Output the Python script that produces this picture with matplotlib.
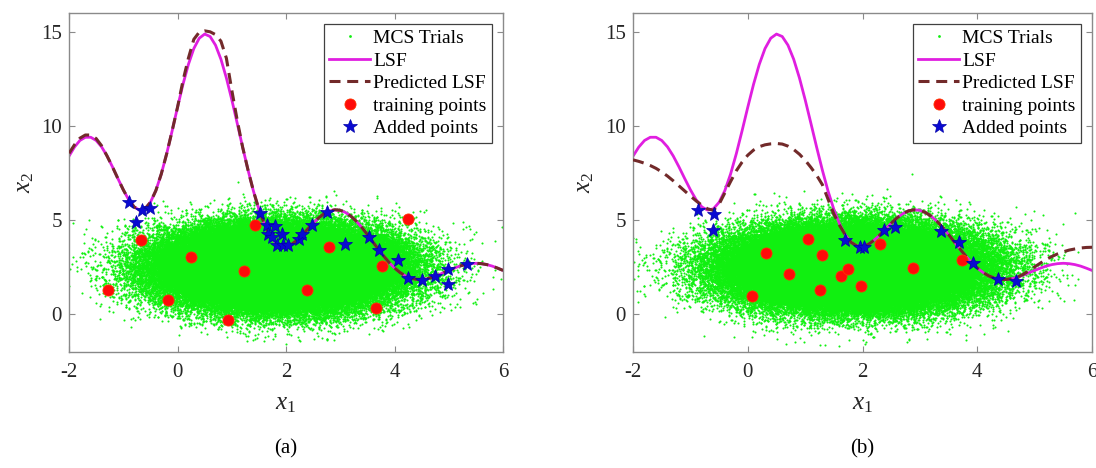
import numpy as np
import matplotlib.pyplot as plt

plt.rcParams['font.family'] = ['Liberation Serif', 'DejaVu Serif']
plt.rcParams['mathtext.fontset'] = 'custom'
plt.rcParams['mathtext.rm'] = 'Liberation Serif'
plt.rcParams['mathtext.it'] = 'Liberation Serif:italic'
plt.rcParams['axes.unicode_minus'] = False

# limit state curve sampled every 0.1 along x1
x1_grid = np.linspace(-2, 6, 81)
lsf = [8.40, 8.88, 9.23, 9.40, 9.40, 9.23, 8.89, 8.41, 7.83, 7.21,
       6.61, 6.08, 5.70, 5.53, 5.60, 5.95, 6.57, 7.45, 8.53, 9.74,
       11.00, 12.21, 13.27, 14.11, 14.66, 14.88, 14.75, 14.29, 13.54, 12.55,
       11.39, 10.14, 8.87, 7.65, 6.53, 5.57, 4.79, 4.21, 3.82, 3.63,
       3.60, 3.71, 3.93, 4.21, 4.53, 4.84, 5.12, 5.34, 5.49, 5.55,
       5.52, 5.40, 5.20, 4.93, 4.60, 4.23, 3.84, 3.46, 3.09, 2.75,
       2.46, 2.22, 2.04, 1.92, 1.86, 1.85, 1.89, 1.97, 2.08, 2.21,
       2.33, 2.45, 2.56, 2.64, 2.69, 2.71, 2.69, 2.64, 2.56, 2.45,
       2.33]

pred_a = [8.55, 9.00, 9.35, 9.52, 9.52, 9.33, 8.95, 8.41, 7.83, 7.21,
          6.61, 6.08, 5.70, 5.53, 5.60, 5.95, 6.57, 7.45, 8.53, 9.74,
          11.00, 12.40, 13.60, 14.60, 14.98, 15.05, 15.00, 14.85, 14.50, 13.60,
          11.90, 10.30, 8.87, 7.65, 6.53, 5.57, 4.79, 4.21, 3.82, 3.63,
          3.60, 3.71, 3.93, 4.21, 4.53, 4.84, 5.12, 5.34, 5.49, 5.55,
          5.52, 5.40, 5.20, 4.93, 4.60, 4.23, 3.84, 3.46, 3.09, 2.75,
          2.46, 2.22, 2.04, 1.92, 1.86, 1.85, 1.89, 1.97, 2.08, 2.21,
          2.33, 2.45, 2.56, 2.64, 2.69, 2.71, 2.69, 2.64, 2.56, 2.45,
          2.33]

pred_b = [8.20, 8.12, 8.02, 7.90, 7.75, 7.56, 7.34, 7.09, 6.82, 6.55,
          6.28, 6.02, 5.79, 5.60, 5.52, 5.85, 6.45, 7.05, 7.62, 8.08,
          8.45, 8.72, 8.90, 9.00, 9.05, 9.07, 9.04, 8.93, 8.75, 8.50,
          8.18, 7.80, 7.38, 6.88, 6.10, 5.32, 4.72, 4.21, 3.82, 3.63,
          3.60, 3.71, 3.93, 4.21, 4.53, 4.84, 5.12, 5.34, 5.49, 5.55,
          5.52, 5.40, 5.20, 4.93, 4.60, 4.23, 3.84, 3.46, 3.09, 2.75,
          2.46, 2.22, 2.04, 1.92, 1.86, 1.85, 1.89, 1.98, 2.12, 2.32,
          2.52, 2.72, 2.91, 3.07, 3.21, 3.32, 3.41, 3.47, 3.52, 3.55,
          3.56]

# initial design points
train_a_x1 = [-1.28, -0.68, -0.17, 0.25, 0.93, 1.23, 1.42, 2.39, 2.79, 3.65, 3.77, 4.25]
train_a_x2 = [1.31, 3.94, 0.78, 3.05, -0.28, 2.30, 4.75, 1.31, 3.58, 0.36, 2.59, 5.04]
train_b_x1 = [0.08, 0.31, 0.72, 1.05, 1.25, 1.29, 1.63, 1.75, 1.98, 2.31, 2.88, 3.73]
train_b_x2 = [0.96, 3.23, 2.16, 3.99, 1.31, 3.14, 2.02, 2.39, 1.51, 3.71, 2.48, 2.91]

# points added by the active learning loop
added_a_x1 = [-0.89, -0.77, -0.66, -0.51, 1.52, 1.64, 1.67, 1.74, 1.80, 1.83,
              1.92, 1.95, 2.04, 2.23, 2.30, 2.47, 2.76, 3.08, 3.53, 3.71,
              4.07, 4.25, 4.51, 4.74, 4.99, 4.99, 5.33]
added_a_x2 = [5.94, 4.88, 5.53, 5.67, 5.36, 4.72, 4.29, 4.10, 4.70, 3.67,
              4.29, 3.67, 3.67, 4.02, 4.29, 4.75, 5.44, 3.72, 4.08, 3.44,
              2.87, 1.95, 1.84, 2.02, 2.39, 1.63, 2.66]
added_b_x1 = [-0.86, -0.59, -0.61, 1.69, 1.95, 2.02, 2.38, 2.57, 3.36, 3.68, 3.93, 4.36, 4.68]
added_b_x2 = [5.53, 5.30, 4.50, 3.97, 3.58, 3.55, 4.47, 4.61, 4.41, 3.85, 2.70, 1.85, 1.77]

# Monte Carlo population
n_mcs = 150000
mcs_mean = [1.85, 2.5]
mcs_std = [1.0, 1.0]

rng = np.random.default_rng(7)
mcs_a = rng.normal(mcs_mean, mcs_std, size=(n_mcs, 2))
mcs_b = rng.normal(mcs_mean, mcs_std, size=(n_mcs, 2))

fig = plt.figure(figsize=(10.96, 4.68), dpi=100)
ax_a = fig.add_axes([0.0630, 0.2479, 0.3960, 0.7244])
ax_b = fig.add_axes([0.5776, 0.2479, 0.4188, 0.7244])


def draw_panel(ax, mcs, pred, tx, ty, ax1, ax2):
    ax.plot(mcs[:, 0], mcs[:, 1], '.', color='#10f010', ms=3.0, mew=0,
            label='MCS Trials', zorder=1)
    ax.plot(x1_grid, lsf, '-', color='#e01ee0', lw=2.0, label='LSF', zorder=2)
    ax.plot(x1_grid, pred, '--', color='#722a2a', lw=2.2, dashes=(3.6, 2.2),
            label='Predicted LSF', zorder=3)
    ax.plot(tx, ty, 'o', color='#ff0a0a', ms=8, mec='#ff3300', mew=0.6,
            ls='none', label='training points', zorder=4)
    ax.plot(ax1, ax2, '*', color='#0a0ad2', ms=10, mec='#0000aa', mew=0.5,
            ls='none', label='Added points', zorder=5)

    ax.set_xlim(-2, 6)
    ax.set_ylim(-2, 16)
    ax.set_xticks([-2, 0, 2, 4, 6])
    ax.set_yticks([0, 5, 10, 15])
    ax.tick_params(direction='in', length=4, width=0.8, top=True, right=True,
                   labelsize=15, colors='#8a8a8a', labelcolor='#262626')
    ax.tick_params(axis='x', pad=8)
    ax.tick_params(axis='y', pad=5)
    for s in ax.spines.values():
        s.set_color('#8a8a8a')
        s.set_linewidth(1.0)

    ax.set_xlabel('$x_1$', fontsize=18, color='#262626')
    ax.set_ylabel('$x_2$', fontsize=18, color='#262626')

    leg = ax.legend(loc='upper right', fontsize=14, frameon=True, fancybox=False,
                    framealpha=1, edgecolor='#404040', borderaxespad=0.55,
                    handlelength=2.1, handletextpad=0.15, labelspacing=0.25,
                    borderpad=0.3, markerscale=1.0)
    leg.get_frame().set_linewidth(0.9)
    leg.legend_handles[0].set_markersize(4)
    return ax


draw_panel(ax_a, mcs_a, pred_a, train_a_x1, train_a_x2, added_a_x1, added_a_x2)
draw_panel(ax_b, mcs_b, pred_b, train_b_x1, train_b_x2, added_b_x1, added_b_x2)

ax_a.xaxis.set_label_coords(0.5, -0.12)
ax_b.xaxis.set_label_coords(0.5, -0.12)
ax_a.yaxis.set_label_coords(-0.075, 0.5)
ax_b.yaxis.set_label_coords(-0.08, 0.5)

fig.text(0.261, 0.04, '(a)', ha='center', va='center', fontsize=15)
fig.text(0.787, 0.04, '(b)', ha='center', va='center', fontsize=15)

fig.savefig('out.png', dpi=100)
